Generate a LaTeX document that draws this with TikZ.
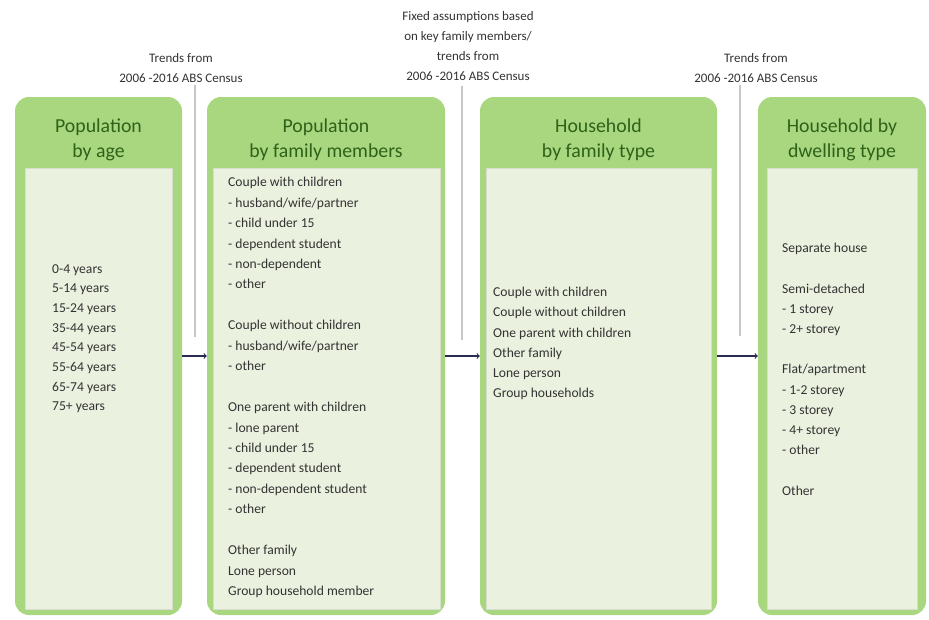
\documentclass[tikz,border=0pt]{standalone}
\usepackage{fontspec}
\setmainfont{Carlito}
\usepackage{xcolor}
\usetikzlibrary{positioning}
\definecolor{boxgreen}{HTML}{A9D77F}
\definecolor{panelgreen}{HTML}{EBF1DF}
\definecolor{titlegreen}{HTML}{2F6219}
\definecolor{textgrey}{HTML}{333333}

\begin{document}
\begin{tikzpicture}[x=1pt,y=-1pt,
	box/.style={fill=boxgreen, rounded corners=14pt, minimum height=518pt, inner sep=0pt},
	panel/.style={fill=panelgreen, draw=panelgreen!92!black, line width=0.4pt, minimum height=441pt, inner sep=0pt},
	title/.style={text=titlegreen, font=\fontsize{19.8}{25}\selectfont, align=center, inner sep=0pt},
	list/.style={text=textgrey, font=\fontsize{13.6}{20.2}\selectfont, align=left, anchor=north west, inner sep=0pt},
	note/.style={text=textgrey, font=\fontsize{13}{20}\selectfont, align=center, inner sep=0pt},
	flow/.style={->, draw=textgrey!85!blue, line width=1.1pt},
	vline/.style={draw=black!22, line width=1.6pt}]
	\useasboundingbox (0,0) rectangle (929,619);
	\node[box, minimum width=167pt] (b1) at (98.5,356) {};
	\node[box, minimum width=238pt] (b2) at (326,356) {};
	\node[box, minimum width=237pt] (b3) at (598.5,356) {};
	\node[box, minimum width=168pt] (b4) at (842,356) {};
	\node[panel, minimum width=147pt] (p1) at (98.5,388.5) {};
	\node[panel, minimum width=227pt] (p2) at (326.5,388.5) {};
	\node[panel, minimum width=225pt] (p3) at (598.5,388.5) {};
	\node[panel, minimum width=150pt] (p4) at (842,388.5) {};
	\node[title] (h1) at (98.5,140) {Population\\by age};
	\node[title] (h2) at (326,140) {Population\\by family members};
	\node[title] (h3) at (598.5,140) {Household\\by family type};
	\node[title] (h4) at (842,140) {Household by\\dwelling type};
	\node[list, font=\fontsize{13.6}{19.7}\selectfont] (l1) at (52,264) {0-4 years\\5-14 years\\15-24 years\\35-44 years\\45-54 years\\55-64 years\\65-74 years\\75+ years};
	\node[list, font=\fontsize{13.6}{20.45}\selectfont] (l2) at (228,177) {Couple with children\\- husband/wife/partner\\- child under 15\\- dependent student\\- non-dependent\\- other\\[20.45pt]
		Couple without children\\- husband/wife/partner\\- other\\[20.45pt]
		One parent with children\\- lone parent\\- child under 15\\- dependent student\\- non-dependent student\\- other\\[20.45pt]
		Other family\\Lone person\\Group household member};
	\node[list] (l3) at (493,287) {Couple with children\\Couple without children\\One parent with children\\Other family\\Lone person\\Group households};
	\node[list] (l4) at (782,243) {Separate house\\[20.2pt]Semi-detached\\- 1 storey\\- 2+ storey\\[20.2pt]
		Flat/apartment\\- 1-2 storey\\- 3 storey\\- 4+ storey\\- other\\[20.2pt]Other};
	\node[note] (t1) at (181,68) {Trends from\\2006 -2016 ABS Census};
	\node[note] (t2) at (468,46) {Fixed assumptions based\\on key family members/\\trends from\\2006 -2016 ABS Census};
	\node[note] (t3) at (756,68) {Trends from\\2006 -2016 ABS Census};
	\coordinate (v1a) at (195,85); \coordinate (v1b) at (195,337);
	\coordinate (v2a) at (462,86); \coordinate (v2b) at (462,340);
	\coordinate (v3a) at (740,85); \coordinate (v3b) at (740,336);
	\draw[vline] (v1a) -- (v1b);
	\draw[vline] (v2a) -- (v2b);
	\draw[vline] (v3a) -- (v3b);
	\draw[flow] (b1) -- (b2);
	\draw[flow] (b2) -- (b3);
	\draw[flow] (b3) -- (b4);
\end{tikzpicture}
\end{document}
